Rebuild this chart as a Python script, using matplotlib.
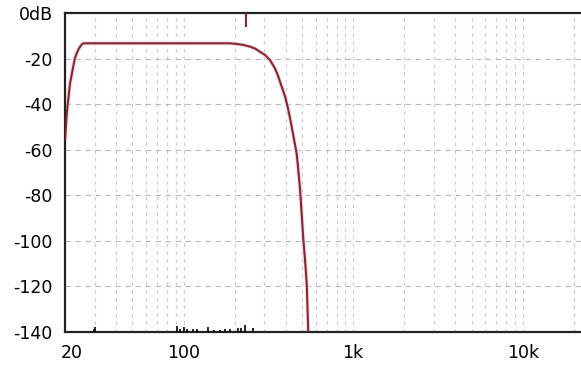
import matplotlib
matplotlib.use("Agg")
import matplotlib.pyplot as plt
import matplotlib.transforms as mtransforms

# Frequency response (Hz, dB)
resp_freq = [20, 20.5, 21.4, 22.3, 22.9, 23.6, 24.2, 25.0, 25.6, 100, 188,
             206, 225, 247, 264, 282, 302, 323, 346, 362, 379, 397, 412, 424,
             442, 465, 475, 486, 497, 508, 520, 532, 544]
resp_db = [-56, -44, -31, -24, -19.7, -17.2, -15.5, -14.0, -13.3, -13.3, -13.3,
           -13.6, -14.0, -14.8, -15.6, -17.0, -18.4, -20.6, -24.3, -27.9, -32.3, -36.7, -41.5, -46,
           -53, -62, -69, -77, -88, -99, -108, -118.4, -140]

# Marker at the top of the chart
marker_freq = 232
marker_db = [0, -6]

# Low-level noise spikes near the floor (Hz, dB)
noise_freq = [29.5, 30.2, 91.6, 95, 101, 105, 113, 120, 139, 152, 164, 175,
              187, 209, 218, 230, 257]
noise_db = [-138.8, -137.8, -137.5, -138.6, -138.0, -138.6, -138.8, -138.9, -137.8,
            -139.0, -139.0, -138.9, -138.7, -138.3, -138.2, -137.0, -138.4]

yticks = [0, -20, -40, -60, -80, -100, -120, -140]
ytick_labels = ["0dB", "-20", "-40", "-60", "-80", "-100", "-120", "-140"]
xticks = [20, 100, 1000, 10000]
xtick_labels = ["20", "100", "1k", "10k"]

x_min, x_max = 20, 22050
y_min, y_max = -140, 0

fig = plt.figure(figsize=(5.81, 3.67), dpi=100)
ax = fig.add_axes([65 / 581, 35 / 367, (581 - 65) / 581, (332 - 13) / 367])
ax.set_xscale("log")
ax.set_xlim(x_min, x_max)
ax.set_ylim(y_min, y_max)

# grid lines
minor_v = [m * 10 ** e for e in range(1, 5) for m in range(1, 10)]
minor_v = [v for v in minor_v if x_min < v < x_max]
for v in minor_v + [20000]:
    ax.axvline(v, color="#c8c8d0", lw=0.8, ls=(0, (3, 4)), zorder=1)
for h in yticks[1:-1]:
    ax.axhline(h, color="#b8b8c0", lw=0.8, ls=(0, (5, 4)), zorder=1)

ax.plot(resp_freq, resp_db, color="#f4c8cc", lw=3.0, zorder=2, alpha=0.6)
ax.plot(resp_freq, resp_db, color="#842634", lw=1.5, zorder=3)
ax.vlines([marker_freq], marker_db[1], marker_db[0], color="#842634", lw=1.5, zorder=3)
ax.vlines(noise_freq, -140, noise_db, color="black", lw=1.2, zorder=3)

ax.set_yticks(yticks)
ax.set_yticklabels(ytick_labels)
ax.set_xticks(xticks)
ax.set_xticklabels(xtick_labels)
ax.xaxis.set_minor_locator(matplotlib.ticker.NullLocator())
ax.tick_params(axis="both", length=0, labelsize=12.5, colors="black")
ax.tick_params(axis="y", pad=9)
ax.tick_params(axis="x", pad=9)

# shift the first x label right a little as in the reference
lbl = ax.get_xticklabels()[0]
lbl.set_transform(lbl.get_transform() + mtransforms.ScaledTranslation(7 / 100, 0, fig.dpi_scale_trans))

for s in ["top", "left", "bottom"]:
    ax.spines[s].set_linewidth(1.6)
    ax.spines[s].set_color("#222222")
ax.spines["right"].set_visible(False)

fig.savefig("out.png", dpi=100)
